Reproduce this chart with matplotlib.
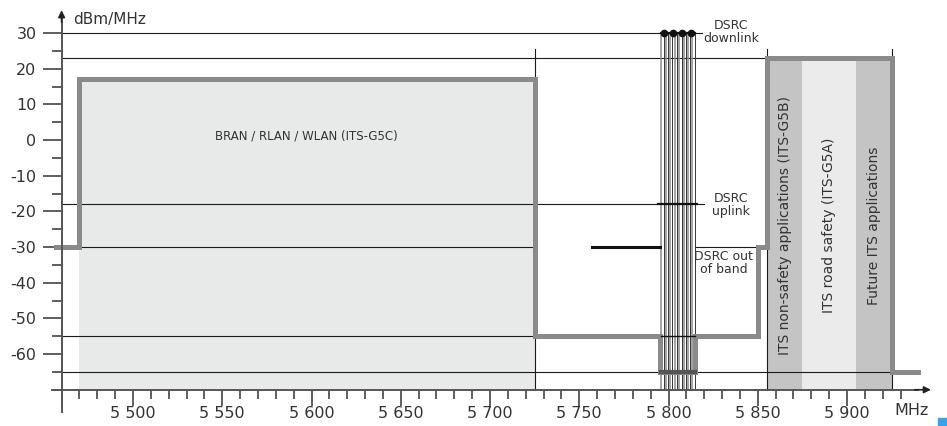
import matplotlib
matplotlib.use('Agg')
import matplotlib.pyplot as plt
from matplotlib.ticker import FixedLocator
from matplotlib.patches import Rectangle

plt.rcParams['font.family'] = ['DejaVu Sans']

# ---- data ----
x_major = [5500, 5550, 5600, 5650, 5700, 5750, 5800, 5850, 5900]
x_major_labels = ['5 500', '5 550', '5 600', '5 650', '5 700', '5 750', '5 800', '5 850', '5 900']
x_minor = [5470, 5480, 5490, 5510, 5520, 5530, 5540, 5560, 5570, 5580, 5590,
           5610, 5620, 5630, 5640, 5660, 5670, 5680, 5690, 5710, 5720, 5730, 5740,
           5760, 5770, 5780, 5790, 5810, 5820, 5830, 5840, 5860, 5870, 5880, 5890,
           5910, 5920, 5930]
y_major = [-60, -50, -40, -30, -20, -10, 0, 10, 20, 30]
y_major_labels = ['-60', '-50', '-40', '-30', '-20', '-10', '0', '10', '20', '30']
y_minor = [-65, -55, -45, -35, -25, -15, -5, 5, 15, 25]

# spectrum mask (MHz, dBm/MHz)
mask_x = [5457, 5470, 5470, 5725, 5725, 5795, 5795, 5815, 5815, 5850, 5850, 5855, 5855, 5925, 5925, 5940]
mask_y = [-30, -30, 17, 17, -55, -55, -65, -65, -55, -55, -30, -30, 23, 23, -65, -65]

# reference levels: (level, start, end)
ref_level = [30, 23, -18, -30, -30, -55, -65]
ref_start = [5460, 5460, 5460, 5460, 5815, 5460, 5460]
ref_end = [5819, 5925, 5820, 5725, 5850, 5725, 5925]

# band boundaries (thin vertical lines)
boundaries = [5725, 5855, 5925]
boundary_top = 25.5

# BRAN band
bran_lo, bran_hi, bran_level = 5470, 5725, 17
# ITS bands
its_lo = [5855, 5875, 5905]
its_hi = [5875, 5905, 5925]
its_colors = ['#c4c4c4', '#ebebeb', '#c4c4c4']
its_level = 23
its_labels = ['ITS non-safety applications (ITS-G5B)', 'ITS road safety (ITS-G5A)', 'Future ITS applications']

# DSRC
dsrc_centers = [5797.5, 5802.5, 5807.5, 5812.5]
dsrc_lines = [5796.0, 5797.3, 5798.4, 5799.7, 5801.0, 5802.2, 5803.5, 5804.8,
              5805.9, 5807.3, 5808.5, 5809.7, 5811.0, 5812.3, 5813.4, 5814.7]
dsrc_downlink = 30
dsrc_uplink = -18
dsrc_oob_x = [5757, 5795]
dsrc_oob_level = -30

x_axis_level = -70
y_axis_pos = 5460

# ---- figure ----
fig = plt.figure(figsize=(9.47, 4.26), dpi=100)
ax = fig.add_axes([0.04620, 0.0265, 0.94245, 0.9462])
ax.set_xlim(5450, 5950)
ax.set_ylim(-77, 36)

# fills
ax.fill_between([bran_lo, bran_hi], x_axis_level, bran_level, color='#e8e9e9', lw=0, zorder=1)
for lo, hi, c in zip(its_lo, its_hi, its_colors):
    ax.fill_between([lo, hi], x_axis_level, its_level, color=c, lw=0, zorder=1)

# reference lines
for lv, s, e in zip(ref_level, ref_start, ref_end):
    ax.plot([s, e], [lv, lv], color='#1a1a1a', lw=0.8, zorder=2)

# boundaries
for b in boundaries:
    ax.plot([b, b], [x_axis_level, boundary_top], color='#1a1a1a', lw=0.8, zorder=2)

# DSRC vertical lines
for i, xv in enumerate(dsrc_lines):
    ax.plot([xv, xv], [x_axis_level, dsrc_downlink],
            color='#333333' if i % 2 else '#8a8a8a', lw=0.7 if i % 2 else 1.1, zorder=3)

# mask
ax.plot(mask_x, mask_y, color='#8a8a8a', lw=3.6, solid_joinstyle='miter', zorder=4)

# DSRC highlights
ax.plot([dsrc_lines[0], dsrc_lines[-1]], [-65, -65], color='#555555', lw=3.0, zorder=5)
ax.plot([dsrc_lines[0], dsrc_lines[-1]], [-55, -55], color='#111111', lw=1.0, zorder=5)
ax.plot([dsrc_lines[0] - 2, dsrc_lines[-1] + 1], [dsrc_uplink, dsrc_uplink], color='#111111', lw=1.6, zorder=5)
ax.plot([dsrc_lines[0], dsrc_lines[-1]], [dsrc_downlink, dsrc_downlink], color='#111111', lw=1.6, zorder=5)
ax.plot(dsrc_centers, [dsrc_downlink] * len(dsrc_centers), 'o', color='#111111', ms=4.5, zorder=6)
ax.plot(dsrc_oob_x, [dsrc_oob_level, dsrc_oob_level], color='#111111', lw=2.2, zorder=5)

# texts
tc = '#333333'
ax.text(5597, 1.2, 'BRAN / RLAN / WLAN (ITS-G5C)', fontsize=8.5, color=tc, ha='center', va='center', zorder=7)
ax.text(5835, 30.3, 'DSRC\ndownlink', fontsize=9, color=tc, ha='center', va='center', linespacing=1.0, zorder=7)
ax.text(5835, -18.2, 'DSRC\nuplink', fontsize=9, color=tc, ha='center', va='center', linespacing=1.0, zorder=7)
ax.text(5831, -34.4, 'DSRC out\nof band', fontsize=9, color=tc, ha='center', va='center', linespacing=1.0, zorder=7)
for lo, hi, lab in zip(its_lo, its_hi, its_labels):
    ax.text((lo + hi) / 2, -24, lab, rotation=90, fontsize=10, color=tc,
            ha='center', va='center', zorder=7)

ax.text(5466.4, 33.9, 'dBm/MHz', fontsize=11, color=tc, ha='left', va='center')
ax.text(5936, -75.7, 'MHz', fontsize=11.5, color=tc, ha='center', va='center')

# axes
for s in ['top', 'right']:
    ax.spines[s].set_visible(False)
ax.spines['left'].set_position(('data', y_axis_pos))
ax.spines['bottom'].set_position(('data', x_axis_level))
ax.spines['left'].set_bounds(-76.3, 35.0)
ax.spines['bottom'].set_bounds(5454.6, 5940)
for s in ['left', 'bottom']:
    ax.spines[s].set_color('#555555')
    ax.spines[s].set_linewidth(1.4)
    ax.spines[s].set_zorder(8)

ax.annotate('', xy=(y_axis_pos, 36.4), xytext=(y_axis_pos, 33.0),
            arrowprops=dict(arrowstyle='-|>', color='#222222', lw=1.2, mutation_scale=10,
                            shrinkA=0, shrinkB=0), annotation_clip=False, zorder=9)
ax.annotate('', xy=(5947, x_axis_level), xytext=(5938, x_axis_level),
            arrowprops=dict(arrowstyle='-|>', color='#222222', lw=1.2, mutation_scale=10,
                            shrinkA=0, shrinkB=0), annotation_clip=False, zorder=9)

ax.xaxis.set_major_locator(FixedLocator(x_major))
ax.xaxis.set_minor_locator(FixedLocator(x_minor))
ax.set_xticklabels(x_major_labels)
ax.yaxis.set_major_locator(FixedLocator(y_major))
ax.yaxis.set_minor_locator(FixedLocator(y_minor))
ax.set_yticklabels(y_major_labels)

ax.tick_params(axis='x', which='major', direction='out', length=11.5, width=1.1,
               color='#333333', labelsize=11.5, labelcolor='#333333', pad=0.5)
ax.tick_params(axis='x', which='minor', direction='out', length=6.5, width=1.1, color='#333333')
ax.tick_params(axis='y', which='major', direction='out', length=13.7, width=1.1,
               color='#333333', labelsize=11.5, labelcolor='#333333', pad=4.3)
ax.tick_params(axis='y', which='minor', direction='out', length=7.2, width=1.1, color='#333333')

fig.patches.append(Rectangle((938 / 947, 0), 9 / 947, 8 / 426, transform=fig.transFigure,
                             color='#3aa0e8', zorder=10))

fig.savefig('out.png', dpi=100)
